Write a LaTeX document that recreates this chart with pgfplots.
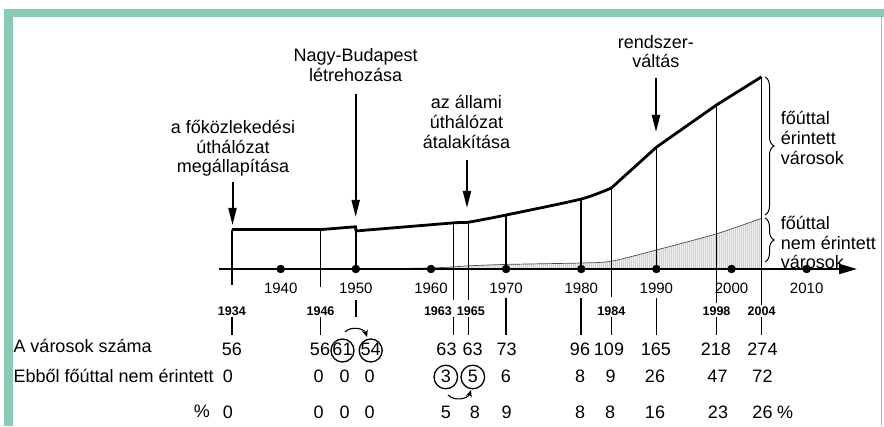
\documentclass[border=0pt]{standalone}
\usepackage{fontspec}
\setmainfont{Liberation Sans}
\usepackage{pgfplots}
\pgfplotsset{compat=1.18}
\usetikzlibrary{arrows.meta,patterns,decorations.pathreplacing}
\definecolor{framec}{RGB}{136,203,180}
\pgfdeclarepatternformonly{vlines2}{\pgfpointorigin}{\pgfqpoint{2.2pt}{10pt}}{\pgfqpoint{2.2pt}{10pt}}{%
  \pgfsetlinewidth{0.7pt}\pgfpathmoveto{\pgfqpoint{1.1pt}{-1pt}}\pgfpathlineto{\pgfqpoint{1.1pt}{11pt}}\pgfusepath{stroke}}
\newcommand{\bigf}{\fontsize{18}{20}\selectfont}
\newcommand{\midf}{\fontsize{15}{17}\selectfont}
\newcommand{\smf}{\fontsize{12.5}{14}\selectfont\bfseries}
\begin{document}
\begin{tikzpicture}[x=1pt,y=1pt]
\useasboundingbox (0,0) rectangle (884,426);
\fill[white] (0,0) rectangle (884,426);
% frame
\fill[framec] (4,0) rectangle (12.7,417);
\fill[framec] (4,408.5) rectangle (884,417);
\fill[framec] (880.5,0) rectangle (882,417);

\begin{axis}[at={(205.56pt,157pt)}, anchor=south west, scale only axis,
  width=638.69pt, height=211.2pt, xmin=1930, xmax=2015, ymin=0, ymax=300,
  hide axis, clip=false, unbounded coords=jump]
% towns not touched by main roads (hatched area)
\addplot[draw=gray!60!black, line width=0.7pt, pattern=vlines2, pattern color=black!50, smooth, tension=0.4]
  coordinates {(1952,0)(1960,1.5)(1963,3)(1965,4.5)(1970,6.5)(1980,8.5)(1984,11)(1990,27)(1998,50)(2004,72)} \closedcycle;
% event lines
\addplot[black, line width=1.6pt] coordinates {
 (1933.5,-22.7)(1933.5,56) (1940,nan)
 (1945.3,-25.6)(1945.3,56) (1947,nan)
 (1950,0)(1950,60) (1955,nan)
 (1963,-44)(1963,65.5) (1964,nan)
 (1965,-44)(1965,66.5) (1967,nan)
 (1970,0)(1970,76.7) (1975,nan)
 (1980,0)(1980,99.4) (1982,nan)
 (1984,-39.8)(1984,115) (1986,nan)
 (1990,0)(1990,173) (1995,nan)
 (1998,-48.3)(1998,233) (2000,nan)
 (2004,-51)(2004,273)};
% stubs below labels
\addplot[black, line width=1.6pt] coordinates {
 (1933.5,-68.2)(1933.5,-93.75) (1940,nan)
 (1945.3,-68.2)(1945.3,-93.75) (1947,nan)
 (1950,-44)(1950,-68.2) (1955,nan)
 (1963,-68.2)(1963,-93.75) (1964,nan)
 (1965,-68.2)(1965,-93.75) (1967,nan)
 (1970,-41.2)(1970,-93.75) (1975,nan)
 (1980,-41.2)(1980,-93.75) (1982,nan)
 (1984,-68.2)(1984,-93.75) (1986,nan)
 (1990,-41.2)(1990,-93.75) (1995,nan)
 (1998,-68.2)(1998,-93.75) (2000,nan)
 (2004,-68.2)(2004,-93.75)};
% total number of towns
\addplot[black, line width=2.8pt, line join=round] coordinates {(1933.5,56)(1945.3,56)(1950,60)(1950,54)};
\addplot[black, line width=2.8pt, smooth, tension=0.4] coordinates {(1950,54)(1963,65.5)(1965,66.5)(1970,76.7)(1980,99.4)(1984,115)};
\addplot[black, line width=2.8pt, line join=round] coordinates {(1984,115)(1990,173)(1998,233)(2004,273)};
% time axis
\draw[line width=1.9pt, -{Triangle[length=18pt,width=10pt]}] (axis cs:1931.8,0) -- (axis cs:2016.7,0);
\addplot[only marks, mark=*, mark size=4pt, black] coordinates {(1940,0)(1950,0)(1960,0)(1970,0)(1980,0)(1990,0)(2000,0)(2010,0)};
\node[font=\midf] at (axis cs:1940,-27) {1940};
\node[font=\midf] at (axis cs:1950,-27) {1950};
\node[font=\midf] at (axis cs:1960,-27) {1960};
\node[font=\midf] at (axis cs:1970,-27) {1970};
\node[font=\midf] at (axis cs:1980,-27) {1980};
\node[font=\midf] at (axis cs:1990,-27) {1990};
\node[font=\midf] at (axis cs:2000,-27) {2000};
\node[font=\midf] at (axis cs:2010,-27) {2010};
\node[font=\smf] at (axis cs:1933.5,-59.7) {1934};
\node[font=\smf] at (axis cs:1945.3,-59.7) {1946};
\node[font=\smf, anchor=east, inner xsep=0pt] at (axis cs:1962.8,-59.7) {1963};
\node[font=\smf] at (axis cs:1965.3,-59.7) {1965};
\node[font=\smf] at (axis cs:1984,-59.7) {1984};
\node[font=\smf] at (axis cs:1998,-59.7) {1998};
\node[font=\smf] at (axis cs:2004,-59.7) {2004};
\end{axis}

% event annotations
\tikzset{evarrow/.style={line width=2pt, -{Triangle[length=17pt,width=8pt]}}}
\draw[evarrow] (232.5,244.3) -- (232.5,201);
\draw[evarrow] (355.7,332) -- (355.7,209);
\draw[evarrow] (467,266) -- (467,218);
\draw[evarrow] (656,348) -- (656,294);
\node[font=\bigf, anchor=base] at (233,292.7) {a főközlekedési};
\node[font=\bigf, anchor=base] at (233,272.7) {úthálózat};
\node[font=\bigf, anchor=base] at (233,253) {megállapítása};
\node[font=\bigf, anchor=base] at (355.7,364.3) {Nagy-Budapest};
\node[font=\bigf, anchor=base] at (355.7,344.3) {létrehozása};
\node[font=\bigf, anchor=base] at (466.5,317) {az állami};
\node[font=\bigf, anchor=base] at (466.5,297) {úthálózat};
\node[font=\bigf, anchor=base] at (466.5,277) {átalakítása};
\node[font=\bigf, anchor=base] at (655.8,377.7) {rendszer-};
\node[font=\bigf, anchor=base] at (655.8,358.3) {váltás};

% braces
\draw[line width=1pt, decorate, decoration={brace, amplitude=9pt}] (765,349) -- (765,211);
\draw[line width=1pt, decorate, decoration={brace, amplitude=9pt}] (765,208) -- (765,164);
\node[font=\bigf, anchor=base west, inner xsep=0pt] at (780.7,301) {főúttal};
\node[font=\bigf, anchor=base west, inner xsep=0pt] at (780.7,281) {érintett};
\node[font=\bigf, anchor=base west, inner xsep=0pt] at (780.7,261) {városok};
\node[font=\bigf, anchor=base west, inner xsep=0pt] at (780.7,196) {főúttal};
\node[font=\bigf, anchor=base west, inner xsep=0pt] at (780.7,176.5) {nem érintett};
\node[font=\bigf, anchor=base west, inner xsep=0pt] at (780.7,157) {városok};

% table
\node[font=\bigf, anchor=base west, inner xsep=0pt] at (13.3,74) {A városok száma};
\node[font=\bigf, anchor=base west, inner xsep=0pt] at (13.3,44) {Ebből főúttal nem érintett};
\node[font=\bigf, anchor=base east, inner xsep=0pt] at (210,9) {\%};
\foreach \x/\v in {232/56,320/56,342.5/61,370.7/54,446.5/63,472.7/63,506.7/73,580/96,609/109,655.8/165,715.8/218,762.5/274}{
  \node[font=\bigf, anchor=base] at (\x,70) {\v};
}
\foreach \x/\v in {228/0,318.7/0,344.7/0,369.7/0,445.8/3,472.8/5,505.8/6,580/8,610.5/9,655/26,717.5/47,762.5/72}{
  \node[font=\bigf, anchor=base] at (\x,43) {\v};
}
\foreach \x/\v in {228/0,318.7/0,344.7/0,369.7/0,445.8/5,475/8,506.7/9,580/8,610/8,655/16,718/23,762.5/26}{
  \node[font=\bigf, anchor=base] at (\x,7.5) {\v};
}
\node[font=\bigf, anchor=base] at (785,7.5) {\%};
% circles
\draw[line width=1.3pt] (342.5,75.5) circle (11.5);
\draw[line width=1.3pt] (370.7,75.5) circle (11.5);
\draw[line width=1.3pt] (445.8,49) circle (11.8);
\draw[line width=1.3pt] (472.8,49) circle (11.8);
\draw[line width=1.1pt, -{Stealth[length=7pt,width=6pt]}] (345,94) to[bend left=60] (367,89);
\draw[line width=1.1pt, -{Stealth[length=7pt,width=6pt]}] (448,31) to[bend right=60] (471,36);
\end{tikzpicture}
\end{document}
